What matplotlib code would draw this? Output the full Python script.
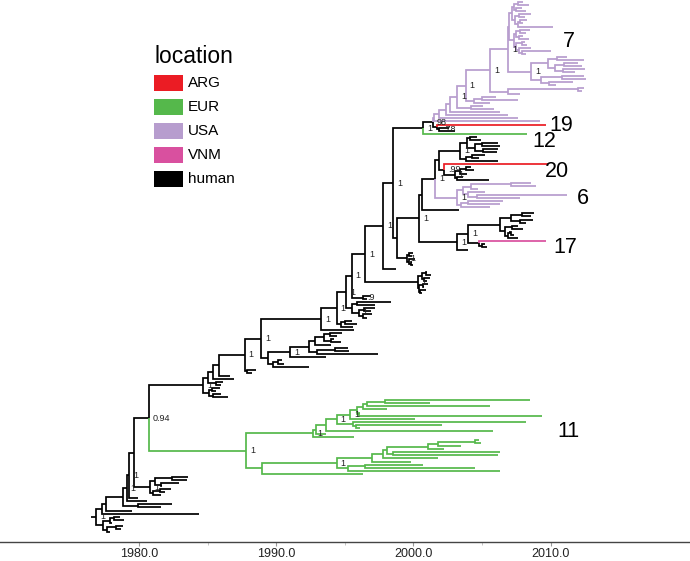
import matplotlib
matplotlib.use("Agg")
import matplotlib.pyplot as plt
from matplotlib.collections import LineCollection
from matplotlib.patches import Rectangle

plt.rcParams['font.family'] = ['Liberation Sans', 'DejaVu Sans']

# ---------------- data ----------------
# tree pieces: "loc[=support][#tag]:date", dates are node/tip years
loc_codes = ["A", "E", "U", "V", "h"]
loc_names = ["ARG", "EUR", "USA", "VNM", "human"]
loc_colors = ["#EB1C24", "#55B84B", "#B79DCE", "#D9509F", "#000000"]

g1 = "((U:2008.0,U:2008.4)U:2007.6,(U:2007.9,U:2008.2)U:2007.5)U:2007.3"
g2 = "((U:2008.6,U:2008.1)U:2007.7,((U:2008.3,U:2008.0)U:2007.8,U:2010.2)U:2007.6)U:2007.4"
g3 = ("(((U:2008.5,U:2008.2)U:2007.8,(U:2008.0,U:2008.4)U:2007.7)U:2007.5,"
      "((U#7:2008.1,U:2008.3)U:2007.9,(U:2008.6,(U:2010.0,U:2008.2)U:2007.9)U:2007.7)U:2007.5)U:2007.3")
sub7 = ("(((U:2011.2,U:2012.4)U:2010.5,((U:2012.0,U:2012.3)U:2011.0,(U:2012.5,U:2011.8)U:2010.9)U:2010.3)U:2009.8,"
        "((U:2012.4,U:2012.6)U:2010.8,(U:2011.6,U:2010.4)U:2009.9)U:2009.3)U=1:2008.6")
ladder7_dates = [2005.6, 2003.8, 2003.2, 2002.7, 2002.4, 2001.9, 2001.5]
ladder7_support = ["1", "1", "1", "", "", "", ""]
ladder7_sibs = ["((U:2012.4,U:2012.3)U:2012.0,U:2007.8)U:2006.9",
                "((U:2006.0,U:2007.6)U:2005.0,U:2005.6)U:2004.4",
                "(U:2005.1,U:2005.9)U:2004.2",
                "U:2006.3", "U:2006.9", "U:2007.6", "U:2009.2"]

c20_top = ("(((h:2004.6,h:2004.9)h:2004.1,((h:2006.2,h:2006.3)h:2005.0,(h:2006.2,h:2006.1)h:2005.1)h:2004.5)h:2003.9,"
           "((h:2005.2,h:2004.8)h:2004.3,h:2006.2)h:2003.8)h=1:2003.4")
c99 = "(((h:2004.2,h:2004.4)h:2003.8,h:2003.9)h:2003.4,(h:2003.6,h:2005.5)h:2003.2)h=1:2003.0"
clade_6 = ("((((U:2008.6,U:2008.9)U:2007.1,U:2004.7)U:2004.2,(U:2005.2,(U#6:2011.2,U:2007.8)U:2004.6)U:2004.0)U:2003.6,"
           "((U:2006.5,U:2006.3)U:2004.0,U:2005.6)U:2003.5)U=1:2003.2")
clade_17 = ("(((((h:2008.8,h:2008.6)h:2007.9,(h:2008.7,h:2008.2)h:2007.8)h:2007.1,"
            "((h:2007.6,h:2008.0)h:2007.2,((h:2007.0,h:2007.3)h:2007.1,h:2007.6)h:2006.9)h:2006.7)h:2006.3,"
            "(V#17:2009.7,(h:2005.2,h:2005.4)h:2005.0)h:2004.8)h=1:2004.0,h:2004.0)h=1:2003.2")
cluster_f = "((h:2000.0,h:1999.9)h:1999.7,(h:2000.1,(h:1999.9,h:2000.0)h:1999.8)h:1999.7)h=1:1999.5"
cluster_g = ("(((h:2001.0,h:2001.3)h:2000.9,(h:2001.2,h:2001.0)h:2000.8)h:2000.6,"
             "((h:2001.1,h:2000.8)h:2000.7,(h:2000.9,h:2000.6)h:2000.5)h:2000.4)h=1:2000.3")
clade_268 = ("((((((h:1994.8,h:1994.4)h:1993.9,(h:1994.2,h:1994.7)h:1994.0)h:1993.5,h:1994.0)h:1992.8,"
             "((h:1995.2,h:1995.3)h:1994.3,h:1997.4)h:1993.0)h:1992.4,h:1993.6)h=1:1991.0,"
             "((h:1990.4,h:1990.6)h:1990.1,h:1992.4)h:1989.8)h:1989.4")

top11_dates = [1996.6, 1996.3, 1995.9, 1995.4, 1994.4, 1993.6, 1992.9, 1992.7]
top11_support = ["", "", "", "1", "1", "", "", "1"]
top11_sibs = ["E:2005.6", "E:1998.1", "(E:1996.1,E:2009.4)E:1996.0", "E:2000.1",
              "(E:2008.2,(E:2002.1,E:1996.1)E:1995.8)E:1995.6", "E:2005.8", "E:1993.6", "E:1995.7"]
bot11_dates = [2001.8, 2001.1, 1998.1, 1997.8, 1997.0, 1994.4, 1989.0]
bot11_support = ["", "", "", "", "", "1", ""]
bot11_sibs = ["E:2003.5", "E:2002.2", "(E:2006.3,E:2006.2)E:1998.5", "E:2001.8", "E:1999.8",
              "((E:2000.7,E:2004.5)E:1996.5,E:2006.3)E:1995.2", "E:1996.3"]

cluster_h = ("(((h:1983.6,h:1983.5)h:1982.4,(h:1982.9,h:1981.7)h:1981.6)h:1981.2,"
             "((h:1982.3,h:1981.9)h:1981.5,h:1981.6)h:1981.0)h=1:1980.8")
cluster_b = ("(((h:1978.6,h:1978.9)h:1978.2,h:1978.0)h:1977.9,"
             "((h:1978.8,h:1978.7)h:1978.3,h:1977.9)h:1977.7)h:1977.4")

clade_names = ["7", "19", "12", "20", "6", "17", "11"]
clade_label_year = [2010.9, 2009.9, 2008.7, 2009.6, 2011.9, 2010.2, 2010.5]
clade_label_dy = [0, 0.4, 2.6, 2.3, 1.2, 2.0, -6.2]


def ladder(core, dates, sups, sibs, loc):
    for d, s, sib in zip(dates, sups, sibs):
        lab = loc + ("=" + s if s else "")
        core = f"({core},{sib}){lab}:{d}"
    return core


up7 = f"(({g1},{g2})U:2007.2,{g3})U:2007.0"
clade_7 = ladder(f"({up7},{sub7})U=1:2006.9", ladder7_dates, ladder7_support, ladder7_sibs, "U")
group_19_12 = f"(({clade_7},(A#19:2009.7,(h:2002.6,h:2003.0)h=.78:2001.9)h:2001.7)h=98:2001.4,E#12:2008.3)h=1:2000.7"
clade_20 = f"({c20_top},(A#20:2009.8,{c99})h=.99:2002.2)h:2001.9"
group_20_6 = f"(({clade_20},{clade_6})h=1:2001.6,h:2003.3)h:2000.6"
upper = f"({group_19_12},(({group_20_6},{clade_17})h=1:2000.4,{cluster_f})h:1998.8)h=1:1998.5"

top11 = ladder("(E:2008.5,E:2001.2)E:1997.9", top11_dates, top11_support, top11_sibs, "E")
bot11 = ladder("(E:2004.8,E:2004.9)E:2004.5", bot11_dates, bot11_support, bot11_sibs, "E")
clade_11 = f"({top11},{bot11})E=1#11:1987.8"

bb_dates = [1997.8, 1996.5, 1995.5, 1995.1, 1994.4, 1993.3, 1988.9, 1987.7, 1985.8, 1985.4,
            1985.0, 1984.7, 1980.7, 1979.6, 1979.3, 1979.1, 1978.8, 1977.6, 1977.3, 1976.9]
bb_support = ["1", "1", "1", "1", "1", "1", "1", "1", "", "",
              "", "1", "0.94", "", "1", "1", "", "", "", "1"]
bb_sibs = ["h:1998.7", cluster_g, "(h:1996.9,h:1996.6)h=.9:1996.3",
           "((h:1998.4,h:1997.2)h:1995.9,((h:1997.2,h:1996.9)h:1996.4,(h:1997.0,h:1996.6)h:1996.3)h=1:1996.0)h:1995.5",
           "((h:1995.5,h:1995.9)h:1995.0,h:1995.6)h:1994.7", "h:1995.7", clade_268,
           "(h:1988.5,h:1988.2)h:1987.9", "h:1986.6", "h:1986.9", "(h:1986.1,h:1986.0)h:1985.6",
           "((h:1985.9,h:1985.6)h:1985.3,(h:1986.0,h:1986.5)h:1985.4)h:1985.1",
           clade_11, cluster_h, "h:1979.9", "h:1980.6", "(h:1982.4,h:1981.6)h:1979.9",
           "h:1979.5", "h:1984.4", cluster_b]

tree_text = ladder(upper, bb_dates, bb_support, bb_sibs, "h")


# ---------------- parse + layout ----------------
def parse(s):
    pos = 0

    def node():
        nonlocal pos
        kids = []
        if s[pos] == "(":
            pos += 1
            kids.append(node())
            while s[pos] == ",":
                pos += 1
                kids.append(node())
            pos += 1
        j = pos
        while pos < len(s) and s[pos] not in ",()":
            pos += 1
        label, date = s[j:pos].split(":")
        tag = ""
        if "#" in label:
            label, tag = label.split("#")
        sup = ""
        if "=" in label:
            label, sup = label.split("=")
        return {"loc": label, "date": float(date), "sup": sup, "tag": tag, "kids": kids}

    return node()


root = parse(tree_text)
tips = []
tagged = {}


def layout(n):
    if not n["kids"]:
        n["y"] = len(tips)
        tips.append(n)
    else:
        for k in n["kids"]:
            layout(k)
        n["y"] = (n["kids"][0]["y"] + n["kids"][-1]["y"]) / 2
    if n["tag"]:
        tagged[n["tag"]] = n


layout(root)
colors = dict(zip(loc_codes, loc_colors))

segs, cols, sups = [], [], []


def collect(n):
    if n["sup"]:
        sups.append((n["date"], n["y"], n["sup"]))
    for k in n["kids"]:
        segs.append([(n["date"], n["y"]), (n["date"], k["y"]), (k["date"], k["y"])])
        cols.append(colors[k["loc"]])
        collect(k)


collect(root)
segs.append([(root["date"] - 0.4, root["y"]), (root["date"], root["y"])])
cols.append(colors[root["loc"]])

# ---------------- figure ----------------
W, H = 690, 561
fig = plt.figure(figsize=(W / 100, H / 100), dpi=100)
ax = fig.add_axes([0, 19 / H, 1, 542 / H])

lc = LineCollection(segs, colors=cols, linewidths=1.25, capstyle="butt", joinstyle="miter")
ax.add_collection(lc)

for x, y, s in sups:
    ax.text(x + 0.3, y, s, fontsize=6.5, color="#222222", ha="left", va="center")

for name, xl, dy in zip(clade_names, clade_label_year, clade_label_dy):
    ax.text(xl, tagged[name]["y"] + dy, name, fontsize=15.5, ha="left", va="center")

n = len(tips)
per_px = (n - 1) / 530
top = -2 * per_px
ax.set_ylim(top + 542 * per_px, top)
ax.set_xlim(1980 - 139 / 13.72, 1980 + 551 / 13.72)

for side in ["top", "left", "right"]:
    ax.spines[side].set_visible(False)
ax.spines["bottom"].set_color("#444444")
ax.spines["bottom"].set_linewidth(1.0)
ax.set_yticks([])
ax.set_xticks([1980, 1990, 2000, 2010])
ax.set_xticklabels([f"{v:.1f}" for v in [1980, 1990, 2000, 2010]])
ax.set_xticks([1985, 1995, 2005], minor=True)
ax.tick_params(axis="x", which="major", length=3, width=0.8, color="#999999",
               labelsize=9, labelcolor="#222222", pad=1.5)
ax.tick_params(axis="x", which="minor", length=2, width=0.6, color="#bbbbbb")

# legend
fig.text(155 / W, 1 - 63 / H, "location", fontsize=16.5, ha="left", va="baseline")
for i, (name, c) in enumerate(zip(loc_names, loc_colors)):
    ytop = 75 + 24 * i
    fig.add_artist(Rectangle((154 / W, 1 - (ytop + 16) / H), 29 / W, 16 / H,
                             transform=fig.transFigure, color=c, lw=0))
    fig.text(188 / W, 1 - (ytop + 8) / H, name, fontsize=11, ha="left", va="center")

fig.savefig("out.png", dpi=100)
